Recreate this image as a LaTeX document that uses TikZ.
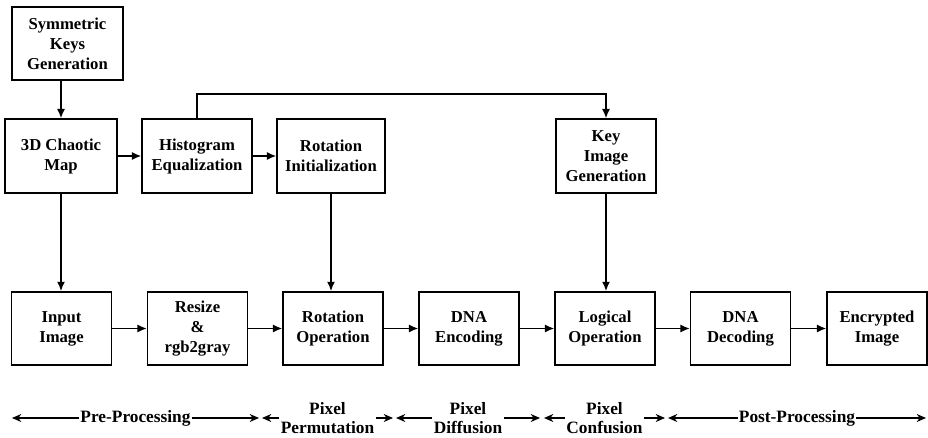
\documentclass[tikz,border=0pt]{standalone}
\usepackage{fontspec}
\setmainfont{Liberation Serif}
\usetikzlibrary{arrows.meta}

\tikzset{
  blk/.style={draw, line width=1.1pt, align=center, inner sep=2pt,
    minimum width=75pt, minimum height=55pt,
    font=\fontsize{12.5}{15}\selectfont\bfseries},
  flow/.style={-{Latex[length=7pt,width=6pt]}, line width=1.1pt},
  stage/.style={{Stealth[length=7pt,width=6pt]}-{Stealth[length=7pt,width=6pt]}, line width=0.9pt},
  stagelbl/.style={fill=white, inner sep=1pt, align=center,
    font=\fontsize{13}{14.5}\selectfont\bfseries}
}

\begin{document}
\begin{tikzpicture}[x=0.75pt, y=-0.75pt]
  \useasboundingbox (0,0) rectangle (928,438);

  % top row
  \node[blk, minimum width=83pt] (keys) at (67.5,43.5) {Symmetric\\Keys\\Generation};
  \node[blk, minimum width=84pt, minimum height=55.5pt] (chaos) at (61,156) {3D Chaotic\\Map};
  \node[blk, minimum width=82.5pt, minimum height=55.5pt] (histo) at (197,156) {Histogram\\Equalization};
  \node[blk, minimum width=81pt, minimum height=55.5pt] (rotinit) at (331,156) {Rotation\\Initialization};
  \node[blk, minimum height=55.5pt] (keyimg) at (606,156) {Key\\Image\\Generation};

  % bottom row
  \node[blk] (input) at (61.5,328.5) {Input\\Image};
  \node[blk] (resize) at (197.5,328.5) {Resize\\\&\\rgb2gray};
  \node[blk] (rotop) at (333,328.5) {Rotation\\Operation};
  \node[blk] (dnaenc) at (469,328.5) {DNA\\Encoding};
  \node[blk] (logic) at (605,328.5) {Logical\\Operation};
  \node[blk] (dnadec) at (740.5,328.5) {DNA\\Decoding};
  \node[blk] (encr) at (877,328.5) {Encrypted\\Image};

  % connectors
  \draw[flow] (keys.south -| chaos) -- (chaos.north);
  \draw[flow] (chaos) -- (histo);
  \draw[flow] (histo) -- (rotinit);
  \coordinate (bend) at (197,94);
  \draw[flow] (histo.north) -- (bend) -| (keyimg.north);
  \draw[flow] (chaos.south) -- (chaos.south |- input.north);
  \draw[flow] (rotinit.south) -- (rotinit.south |- rotop.north);
  \draw[flow] (keyimg.south) -- (keyimg.south |- logic.north);
  \draw[flow] (input) -- (resize);
  \draw[flow] (resize) -- (rotop);
  \draw[flow] (rotop) -- (dnaenc);
  \draw[flow] (dnaenc) -- (logic);
  \draw[flow] (logic) -- (dnadec);
  \draw[flow] (dnadec) -- (encr);

  % stages
  \coordinate (s0) at (12,418);
  \coordinate (s1) at (259,418);
  \coordinate (s2) at (262,418);
  \coordinate (s3) at (393,418);
  \coordinate (s4) at (396,418);
  \coordinate (s5) at (540,418);
  \coordinate (s6) at (544,418);
  \coordinate (s7) at (665,418);
  \coordinate (s8) at (668,418);
  \coordinate (s9) at (926,418);
  \draw[stage] (s0) -- (s1) node[stagelbl, midway] (pre) {Pre-Processing};
  \draw[stage] (s2) -- (s3) node[stagelbl, midway] (perm) {Pixel\\Permutation};
  \draw[stage] (s4) -- (s5) node[stagelbl, midway] (diff) {Pixel\\Diffusion};
  \draw[stage] (s6) -- (s7) node[stagelbl, midway] (conf) {Pixel\\Confusion};
  \draw[stage] (s8) -- (s9) node[stagelbl, midway] (post) {Post-Processing};
\end{tikzpicture}
\end{document}
